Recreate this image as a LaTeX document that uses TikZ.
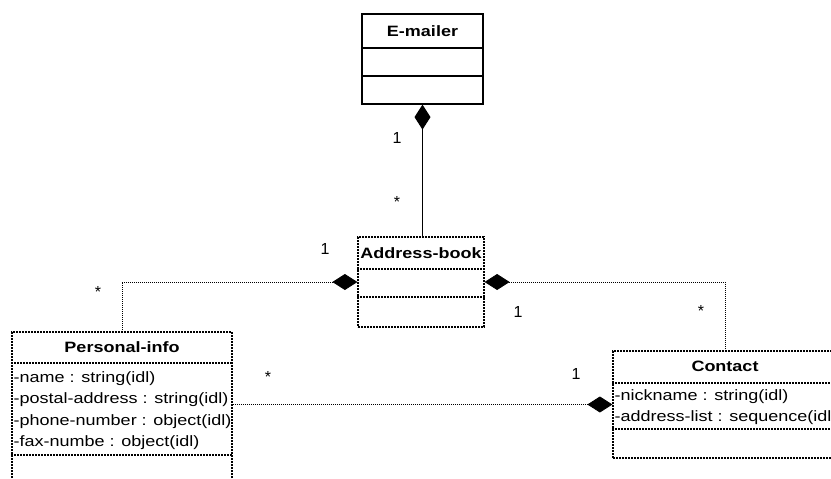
\documentclass[tikz,border=0pt]{standalone}
\usepackage{fontspec}
\setmainfont{Liberation Sans}[FakeStretch=1.2]
\newfontfamily\lblfont{Liberation Sans}
\usetikzlibrary{arrows.meta}
\begin{document}
\begin{tikzpicture}[x=1pt,y=-1pt,
 classbox/.style={draw, line width=1.2pt, dash pattern=on 2pt off 1pt, inner sep=0pt},
 solidbox/.style={draw, line width=1.2pt, inner sep=0pt},
 divider/.style={line width=1.2pt, dash pattern=on 2pt off 1pt},
 soliddiv/.style={line width=1.2pt},
 title/.style={font=\fontsize{15}{18}\selectfont\bfseries, inner sep=0pt},
 attr/.style={font=\fontsize{15}{18}\selectfont, anchor=base west, inner sep=0pt},
 conn/.style={line width=0.8pt, dash pattern=on 1pt off 1pt},
 solidconn/.style={line width=1.1pt},
 comp/.style={{Diamond[length=25pt,width=16pt]}-},
 mult/.style={font=\lblfont\fontsize{16}{19}\selectfont, inner sep=0pt},
 star/.style={font=\lblfont\fontsize{16}{19}\selectfont, inner sep=0pt, anchor=base}]
\clip (0,0) rectangle (831,479);

% E-mailer
\node[solidbox, minimum width=121pt, minimum height=90pt] (em) at (422.5,59) {};
\draw[soliddiv] (em.west |- 0,48) -- (em.east |- 0,48);
\draw[soliddiv] (em.west |- 0,76) -- (em.east |- 0,76);
\node[title] (emt) at (422.5,31) {E-mailer};

% Address-book
\node[classbox, minimum width=126pt, minimum height=90pt] (ab) at (421,282) {};
\draw[divider] (ab.west |- 0,269) -- (ab.east |- 0,269);
\draw[divider] (ab.west |- 0,297) -- (ab.east |- 0,297);
\node[title] (abt) at (421,253) {Address-book};

% Personal-info
\node[classbox, minimum width=220pt, minimum height=160pt] (pi) at (122,412) {};
\draw[divider] (pi.west |- 0,363) -- (pi.east |- 0,363);
\draw[divider] (pi.west |- 0,455) -- (pi.east |- 0,455);
\node[title] (pit) at (122,347) {Personal-info};
\node[attr] (pia1) at (13.5,382) {-name : string(idl)};
\node[attr] (pia2) at (13.5,403.5) {-postal-address : string(idl)};
\node[attr] (pia3) at (13.5,425) {-phone-number : object(idl)};
\node[attr] (pia4) at (13.5,446.5) {-fax-numbe : object(idl)};

% Contact
\node[classbox, minimum width=224pt, minimum height=107pt] (ct) at (725,404.5) {};
\draw[divider] (ct.west |- 0,383) -- (ct.east |- 0,383);
\draw[divider] (ct.west |- 0,429) -- (ct.east |- 0,429);
\node[title] (ctt) at (725,366) {Contact};
\node[attr] (cta1) at (614.5,400) {-nickname : string(idl)};
\node[attr] (cta2) at (614.5,421.5) {-address-list : sequence(idl)};

% connectors
\draw[solidconn, comp] (em.south) -- (em.south |- ab.north);
\draw[conn, comp] (ab.west) -| (pi.north);
\draw[conn, comp] (ab.east) -| (ct.north);
\draw[conn, comp] (ct.west) -- (ct.west -| pi.east);

% multiplicities
\node[mult] (m1) at (397,138) {1};
\node[star] (m2) at (397,207) {*};
\node[mult] (m3) at (325,249) {1};
\node[star] (m4) at (98,297) {*};
\node[mult] (m5) at (518,312) {1};
\node[star] (m6) at (701,316) {*};
\node[star] (m7) at (268,382) {*};
\node[mult] (m8) at (576,374) {1};
\end{tikzpicture}
\end{document}
